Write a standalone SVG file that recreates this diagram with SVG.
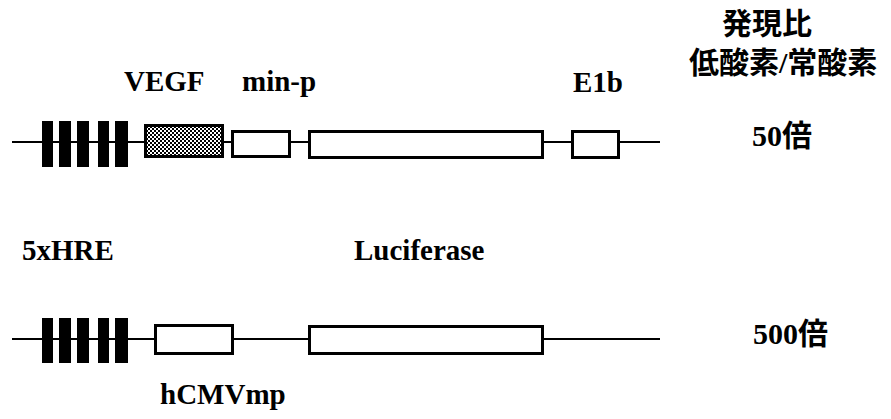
<svg xmlns="http://www.w3.org/2000/svg" width="891" height="419" viewBox="0 0 891 419">
<style>
.lbl{font-family:"Liberation Serif","Times New Roman","DejaVu Serif",serif;font-weight:bold;font-size:29px;fill:#000}
.jp{font-family:"Noto Sans CJK JP",sans-serif;font-weight:bold;font-size:30px;fill:#000}
.num{font-family:"Liberation Serif","Times New Roman",serif;font-weight:bold;font-size:30px;fill:#000}
.box{fill:#fff;stroke:#000;stroke-width:3}
.bar{fill:#000}
.line{stroke:#000;stroke-width:2.2;fill:none}
</style>
<defs>
<pattern id="dots" width="4" height="4" patternUnits="userSpaceOnUse">
<rect width="4" height="4" fill="#fff"/>
<rect x="0" y="0" width="2" height="2" fill="#000"/>
<rect x="2" y="2" width="2" height="2" fill="#000"/>
</pattern>
</defs>
<g id="connectors">
<line class="line" x1="12" y1="142" x2="660" y2="142"/>
<line class="line" x1="12" y1="339" x2="660" y2="339"/>
</g>
<g id="hre1">
<rect class="bar" x="42" y="121" width="11" height="46"/>
<rect class="bar" x="59" y="121" width="12" height="46"/>
<rect class="bar" x="77" y="121" width="12" height="46"/>
<rect class="bar" x="98" y="121" width="11" height="46"/>
<rect class="bar" x="115" y="121" width="13" height="46"/>
</g>
<g id="vegf"><rect x="145.5" y="125.5" width="77" height="31" fill="url(#dots)" stroke="#000" stroke-width="3"/></g>
<g id="minp"><rect class="box" x="232.5" y="131.5" width="57" height="25"/></g>
<g id="luc1"><rect class="box" x="309.5" y="131.5" width="233" height="26"/></g>
<g id="e1b"><rect class="box" x="572.5" y="131.5" width="46" height="26"/></g>
<g id="hre2">
<rect class="bar" x="42" y="318" width="11" height="45"/>
<rect class="bar" x="59" y="318" width="12" height="45"/>
<rect class="bar" x="77" y="318" width="12" height="45"/>
<rect class="bar" x="98" y="318" width="11" height="45"/>
<rect class="bar" x="115" y="318" width="13" height="45"/>
</g>
<g id="hcmv"><rect class="box" x="155.5" y="325.5" width="77" height="28"/></g>
<g id="luc2"><rect class="box" x="309.5" y="326.5" width="233" height="27"/></g>
<g id="labels">
<text class="lbl" x="124" y="91">VEGF</text>
<text class="lbl" x="242" y="91">min-p</text>
<text class="lbl" x="573" y="92">E1b</text>
<text class="lbl" x="22" y="260">5xHRE</text>
<text class="lbl" x="354" y="260">Luciferase</text>
<text class="lbl" x="160" y="404">hCMVmp</text>
<text class="jp" x="722" y="34" font-size="29">発現比</text>
<text class="jp" x="689" y="73">低酸素<tspan font-family="Liberation Serif" font-weight="bold">/</tspan>常酸素</text>
<text class="num" x="752" y="146">50<tspan class="jp" font-size="30">倍</tspan></text>
<text class="num" x="753" y="344">500<tspan class="jp" font-size="30">倍</tspan></text>
</g>
</svg>
